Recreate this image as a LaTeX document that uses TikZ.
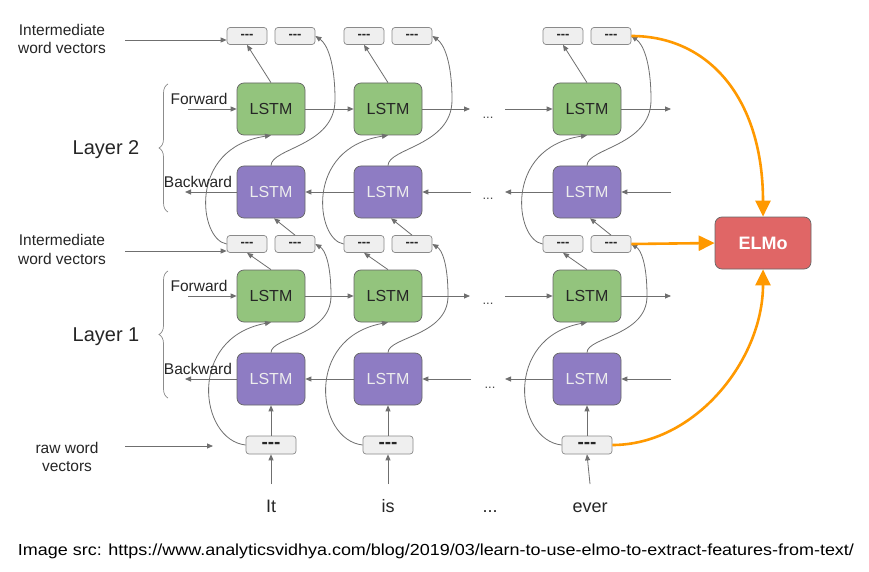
\documentclass[tikz,border=0pt]{standalone}
\usepackage{fontspec}
\usepackage{graphicx}
\setmainfont{Liberation Sans}
\usetikzlibrary{arrows.meta,decorations.pathreplacing,calc}
\definecolor{fgreen}{HTML}{93C47D}
\definecolor{bpurple}{HTML}{8E7CC3}
\definecolor{elmored}{HTML}{E06666}
\definecolor{boxgray}{HTML}{EFEFEF}
\definecolor{boxedge}{HTML}{666666}
\definecolor{vecedge}{HTML}{8A8A8A}
\definecolor{linegray}{HTML}{6F6F6F}
\definecolor{orng}{HTML}{FF9900}
\definecolor{txt}{HTML}{262626}
\begin{document}
\begin{tikzpicture}[x=1pt,y=-1pt,
  lstmbox/.style={draw=boxedge, line width=0.7pt, rounded corners=7pt, minimum width=68pt, minimum height=52pt, inner sep=0pt, font=\fontsize{16}{19}\selectfont},
  fwd/.style={lstmbox, fill=fgreen, text=txt},
  bwd/.style={lstmbox, fill=bpurple, text=white!93!black},
  vecbox/.style={draw=vecedge, line width=0.7pt, fill=boxgray, rounded corners=3pt, minimum width=40pt, minimum height=17pt, inner sep=0pt, text=txt, font=\bfseries\fontsize{13}{14}\selectfont},
  rawbox/.style={vecbox, minimum width=50pt, minimum height=18pt, font=\bfseries\fontsize{19}{20}\selectfont},
  conn/.style={draw=linegray, line width=0.8pt, -{Triangle[length=6pt,width=5pt]}},
  oarrow/.style={draw=orng, line width=2.6pt, -{Triangle[length=16pt,width=15pt]}},
  lbl/.style={font=\fontsize{15.5}{18.5}\selectfont, text=txt, align=center, inner sep=0pt},
  laylbl/.style={font=\fontsize{20}{24}\selectfont, text=txt, inner sep=0pt},
  dotslbl/.style={font=\fontsize{13}{15}\selectfont, text=txt!85, inner sep=0pt},
  wordlbl/.style={font=\fontsize{18}{21}\selectfont, text=txt, inner sep=0pt, anchor=base},
  bracestyle/.style={draw=linegray!80, line width=0.7pt, decorate, decoration={brace, amplitude=9pt}}
]
\fill[white] (0,0) rectangle (869,572);
\useasboundingbox (0,0) rectangle (869,572);

% ELMo
\node[draw=boxedge, line width=0.7pt, fill=elmored, rounded corners=7pt, minimum width=96pt, minimum height=52pt, inner sep=0pt, text=white, font=\bfseries\fontsize{18}{21}\selectfont] (elmo) at (763,243) {ELMo};

% columns
\foreach \i/\x in {1/271, 2/388, 3/587}{
  \node[vecbox] (T1\i) at (\x-24,36) {-{}-{}-};
  \node[vecbox] (T2\i) at (\x+24,36) {-{}-{}-};
  \node[fwd] (F2\i) at (\x,109) {LSTM};
  \node[bwd] (B2\i) at (\x,192) {LSTM};
  \node[vecbox] (M1\i) at (\x-24,244) {-{}-{}-};
  \node[vecbox] (M2\i) at (\x+24,244) {-{}-{}-};
  \node[fwd] (F1\i) at (\x,296) {LSTM};
  \node[bwd] (B1\i) at (\x,379) {LSTM};
  \node[rawbox] (R\i) at (\x,445) {-{}-{}-};
  % raw -> backward L1
  \draw[conn] (R\i.north) -- (B1\i.south);
  % raw -> forward L1 (curve)
  \draw[conn] (R\i.west) .. controls (\x-72,440) and (\x-84,338) .. (F1\i.south);
  % forward L1 -> M1
  \draw[conn] (F1\i.north) -- (M1\i.south);
  % backward L1 -> M2 (S curve)
  \draw[conn] (B1\i.north) .. controls (\x,337) and (\x+60,336) .. (\x+60,296) .. controls (\x+60,264) and (\x+54,250) .. (M2\i.east);
  % M1 -> forward L2 (curve)
  \draw[conn] (M1\i.west) .. controls (\x-72,240) and (\x-84,148) .. (F2\i.south);
  % M2 -> backward L2
  \draw[conn] (M2\i.north) -- ([xshift=3pt]B2\i.south);
  % forward L2 -> T1
  \draw[conn] (F2\i.north) -- (T1\i.south);
  % backward L2 -> T2 (S curve)
  \draw[conn] (B2\i.north) .. controls (\x,148) and (\x+64,146) .. (\x+64,100) .. controls (\x+64,62) and (\x+56,44) .. (T2\i.east);
}

% horizontal chains
\foreach \r/\y in {2/109, 1/296}{
  \coordinate (fin\r) at (188,\y);
  \coordinate (fa\r) at (470,\y);
  \coordinate (fb\r) at (505,\y);
  \coordinate (fout\r) at (671,\y);
  \draw[conn] (fin\r) -- (F\r1.west);
  \draw[conn] (F\r1.east) -- (F\r2.west);
  \draw[conn] (F\r2.east) -- (fa\r);
  \draw[conn] (fb\r) -- (F\r3.west);
  \draw[conn] (F\r3.east) -- (fout\r);
}
\foreach \r/\y in {2/192, 1/379}{
  \coordinate (bin\r) at (671,\y);
  \coordinate (ba\r) at (505,\y);
  \coordinate (bb\r) at (471,\y);
  \coordinate (bout\r) at (185,\y);
  \draw[conn] (bin\r) -- (B\r3.east);
  \draw[conn] (B\r3.west) -- (ba\r);
  \draw[conn] (bb\r) -- (B\r2.east);
  \draw[conn] (B\r2.west) -- (B\r1.east);
  \draw[conn] (B\r1.west) -- (bout\r);
}
\node[dotslbl] (d1) at (488,118) {...};
\node[dotslbl] (d2) at (488,199) {...};
\node[dotslbl] (d3) at (488,304) {...};
\node[dotslbl] (d4) at (490,388) {...};

% left labels
\node[lbl] (iv2) at (62,39) {Intermediate\\word vectors};
\node[lbl] (iv1) at (62,249.5) {Intermediate\\word vectors};
\node[lbl] (rwv) at (67,457) {raw word\\vectors};
\coordinate (a1s) at (125,40);
\coordinate (a2s) at (125,251);
\coordinate (a3s) at (125,446);
\draw[conn] (a1s) -- (T11.west |- a1s);
\draw[conn] (a2s) -- (M11.west |- a2s);
\draw[conn] (a3s) -- (213,446);

\node[laylbl] (l2) at (106,150) {Layer 2};
\node[laylbl] (l1) at (106,337) {Layer 1};
\draw[bracestyle] (168,212) -- (168,84);
\draw[bracestyle] (168,398) -- (168,271);

\node[lbl] (fw2) at (199,99) {Forward};
\node[lbl] (bw2) at (198,182) {Backward};
\node[lbl] (fw1) at (199,286) {Forward};
\node[lbl] (bw1) at (198,369) {Backward};

% words
\node[wordlbl] (w1) at (271,512) {It};
\node[wordlbl] (w2) at (388,512) {is};
\node[wordlbl] (w3) at (490,512) {...};
\node[wordlbl] (w4) at (590,512) {ever};
\coordinate (wa1) at (271,484);
\coordinate (wa2) at (388,484);
\coordinate (wa3) at (590,484);
\draw[conn] (wa1) -- (R1.south);
\draw[conn] (wa2) -- (R2.south);
\draw[conn] (wa3) -- (R3.south);

% orange
\draw[oarrow] (T23.east) .. controls (710,36) and (763,100) .. (elmo.north);
\draw[oarrow] (M23.east) -- (elmo.west);
\draw[oarrow] (R3.east) .. controls (695,445) and (763,360) .. (elmo.south);

% caption
\node[inner sep=0pt, text=black] (src) at (436,551) {\resizebox{836pt}{\height}{\fontsize{16}{19}\selectfont Image src: https://www.analyticsvidhya.com/blog/2019/03/learn-to-use-elmo-to-extract-features-from-text/}};
\end{tikzpicture}
\end{document}
